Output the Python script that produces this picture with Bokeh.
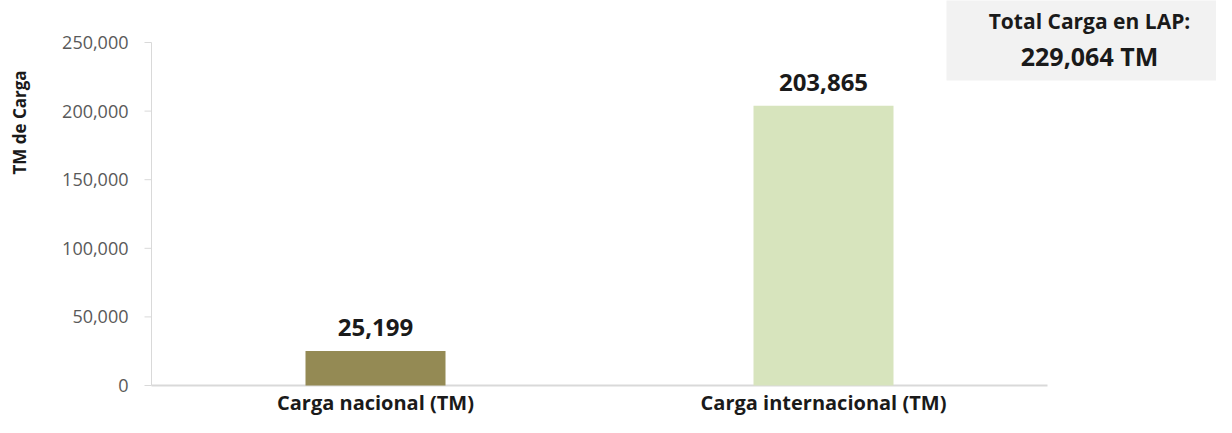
import math
from bokeh.plotting import figure
from bokeh.models import ColumnDataSource, BoxAnnotation, Label, Range1d
from bokeh.core.properties import value
from bokeh.embed import file_html
from bokeh.resources import INLINE

categories = ["Carga nacional (TM)", "Carga internacional (TM)"]
values = [25199, 203865]
colors = ["#948A54", "#D7E4BD"]
total_title = "Total Carga en LAP:"
total_value = "229,064 TM"
y_title = "TM de Carga"
y_ticks = [0, 50000, 100000, 150000, 200000, 250000]
y_max = 250000

FONT = "Open Sans"
n = len(categories)
xpos = [i + 0.5 for i in range(n)]

src = ColumnDataSource(dict(
    x=xpos,
    val=values,
    color=colors,
    label=[f"{v:,}" for v in values],
    cat=categories,
    zero=[0] * n,
))
tick_src = ColumnDataSource(dict(
    y=y_ticks,
    label=[f"{t:,}" for t in y_ticks],
))

W, H = 1216, 417
AXIS_X = 151          # pixel position of the value axis
BASE_Y = 385          # pixel position of the zero line (from top)
FW, FH = W, H
px_per_cat = 448.0
px_per_val = 343.0 / y_max
x_start = -AXIS_X / px_per_cat
y_start = -(FH - BASE_Y) / px_per_val
tick_len = 7 / px_per_cat

p = figure(
    x_range=Range1d(x_start, x_start + FW / px_per_cat),
    y_range=Range1d(y_start, y_start + FH / px_per_val),
    frame_width=FW, frame_height=FH,
    min_border_left=0, min_border_right=0,
    min_border_top=0, min_border_bottom=0,
    output_backend="svg", toolbar_location=None,
    background_fill_color="white", border_fill_color="white",
    outline_line_color=None,
)
p.xaxis.visible = False
p.yaxis.visible = False
p.xgrid.visible = False
p.ygrid.visible = False

# total box (screen units: x from frame left, y from frame bottom upward)
p.add_layout(BoxAnnotation(left=946, right=FW + 10, top=FH + 10, bottom=FH - 80,
                           left_units="screen", right_units="screen",
                           top_units="screen", bottom_units="screen",
                           fill_color="#F2F2F2", fill_alpha=1.0, line_color=None,
                           level="underlay"))

# value axis: line, ticks and tick labels
p.segment(x0=[0], y0=[0], x1=[0], y1=[y_max], line_color="#D9D9D9", line_width=1)
p.segment(x0=-tick_len, y0="y", x1=0, y1="y", source=tick_src, line_color="#D9D9D9", line_width=1)
p.text(x=0, y="y", text="label", source=tick_src, x_offset=-23,
       text_align="right", text_baseline="middle",
       text_font=value(FONT), text_font_size="18px", text_color="#595959")
# category baseline
p.segment(x0=[0], y0=[0], x1=[n], y1=[0], line_color="#D9D9D9", line_width=2)

# bars
p.vbar(x="x", top="val", width=140 / px_per_cat, color="color", source=src, line_color=None)

# value labels
p.text(x="x", y="val", text="label", source=src,
       text_align="center", text_baseline="middle", y_offset=-23,
       text_font=value(FONT), text_font_size="24px", text_font_style="bold",
       text_color="#1a1a1a")

# category labels
p.text(x="x", y="zero", text="cat", source=src,
       text_align="center", text_baseline="middle", y_offset=17,
       text_font=value(FONT), text_font_size="20px", text_font_style="bold",
       text_color="#1a1a1a")

p.add_layout(Label(x=19, y=FH - 122, x_units="screen", y_units="screen",
                   text=y_title, angle=math.pi / 2,
                   text_align="center", text_baseline="middle",
                   text_font=FONT, text_font_size="17px", text_font_style="bold",
                   text_color="#1a1a1a"))

p.add_layout(Label(x=1089, y=FH - 20, x_units="screen", y_units="screen",
                   text=total_title, text_align="center", text_baseline="middle",
                   text_font=FONT, text_font_size="21px", text_font_style="bold",
                   text_color="#1a1a1a"))
p.add_layout(Label(x=1089, y=FH - 55, x_units="screen", y_units="screen",
                   text=total_value, text_align="center", text_baseline="middle",
                   text_font=FONT, text_font_size="25px", text_font_style="bold",
                   text_color="#1a1a1a"))

open("out.html", "w").write(file_html(p, INLINE))
